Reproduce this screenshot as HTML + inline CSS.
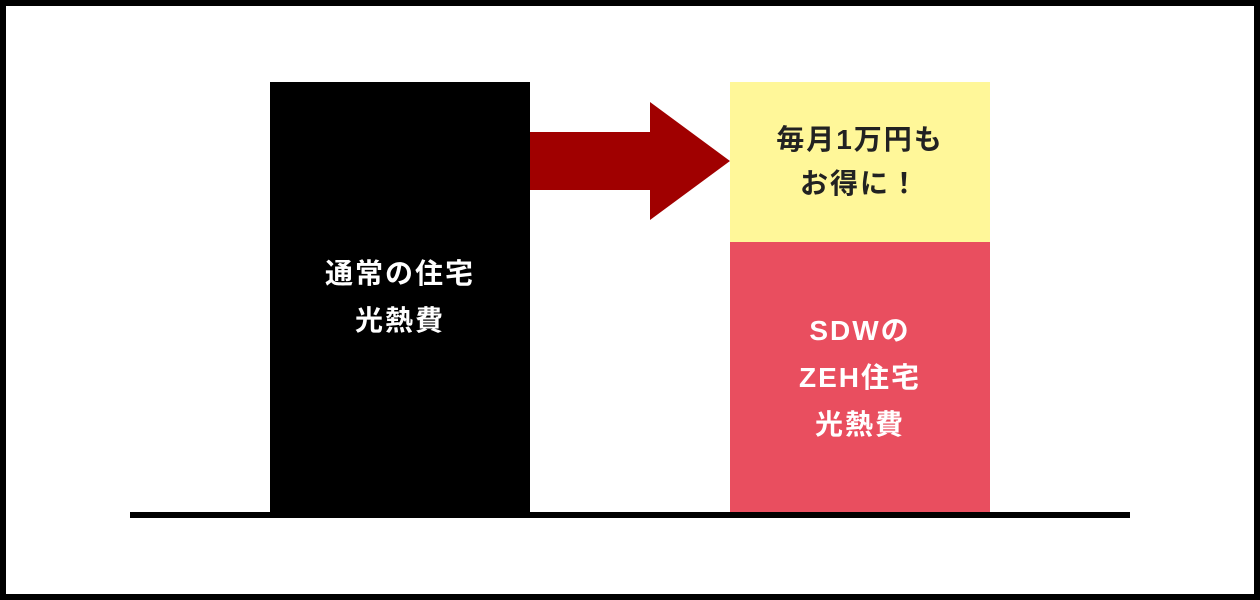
<!DOCTYPE html>
<html><head><meta charset="utf-8"><style>
html,body{margin:0;padding:0}
body{width:1260px;height:600px;position:relative;background:#fff;overflow:hidden;font-family:"Liberation Sans","Noto Sans CJK JP",sans-serif;font-weight:bold}
.frame{position:absolute;left:0;top:0;width:1248px;height:588px;border:6px solid #000}
.b{position:absolute;display:flex;align-items:center;justify-content:center;text-align:center;font-size:28px;line-height:47px;letter-spacing:2px}
</style></head><body>
<div class="frame"></div>
<div class="b" style="left:270px;top:82px;width:260px;height:430px;background:#000;color:#fff">通常の住宅<br>光熱費</div>
<div class="b" style="left:730px;top:82px;width:260px;height:160px;background:#fff799;color:#222;line-height:44px">毎月1万円も<br>お得に！</div>
<div class="b" style="left:730px;top:242px;width:260px;height:270px;background:#e94e5f;color:#fff">SDWの<br>ZEH住宅<br>光熱費</div>
<div style="position:absolute;left:130px;top:512px;width:1000px;height:6px;background:#000"></div>
<svg style="position:absolute;left:0;top:0" width="1260" height="600"><polygon points="530,132 650,132 650,102 730,161 650,220 650,190 530,190" fill="#a00000"/></svg>
</body></html>
